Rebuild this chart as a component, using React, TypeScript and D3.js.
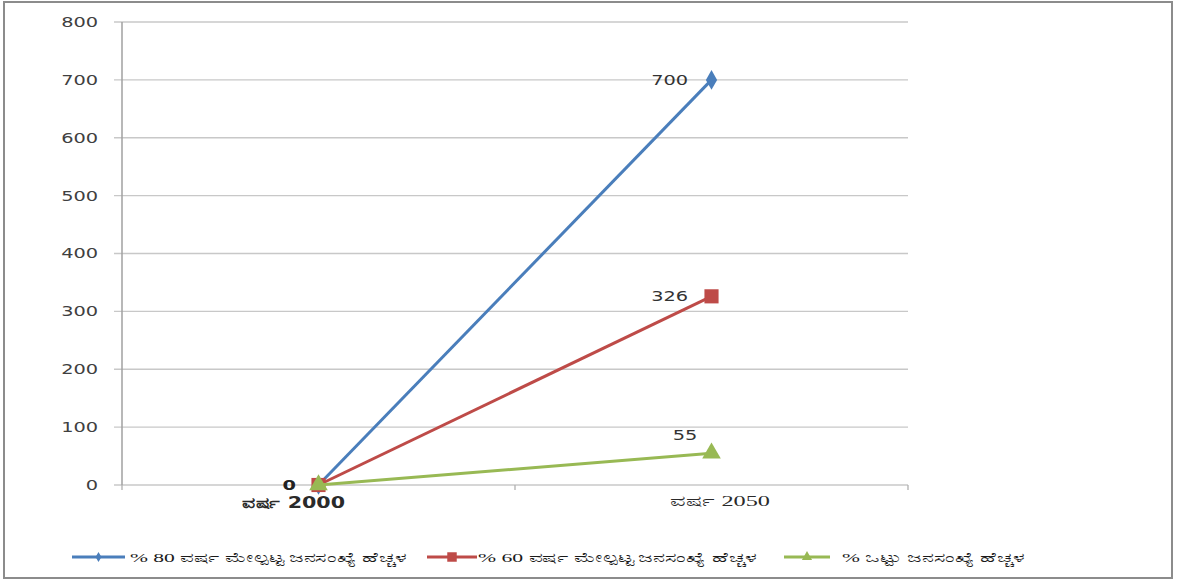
import React from "react";
import * as d3 from "d3";

const categories = ["ವರ್ಷ 2000", "ವರ್ಷ 2050"];
const seriesNames = [
  "% 80 ವರ್ಷ ಮೇಲ್ಪಟ್ಟ ಜನಸಂಖ್ಯೆ ಹೆಚ್ಚಳ",
  "% 60 ವರ್ಷ ಮೇಲ್ಪಟ್ಟ ಜನಸಂಖ್ಯೆ ಹೆಚ್ಚಳ",
  "% ಒಟ್ಟು ಜನಸಂಖ್ಯೆ ಹೆಚ್ಚಳ",
];
const over80 = [0, 700];
const over60 = [0, 326];
const total = [0, 55];
const yTicks = [0, 100, 200, 300, 400, 500, 600, 700, 800];

const W = 1179;
const H = 585;
const left = 122;
const right = 908;
const top = 22;
const bottom = 485;
const SX = 1.38;

export default function App() {
  const x = d3.scaleBand<string>().domain(categories).range([left, right]);
  const y = d3.scaleLinear().domain([0, 800]).range([bottom, top]);
  const cx = (c: string) => (x(c) as number) + x.bandwidth() / 2;

  const series = [
    { name: seriesNames[0], values: over80, color: "#4A7EBB", marker: "diamond" },
    { name: seriesNames[1], values: over60, color: "#BE4B48", marker: "square" },
    { name: seriesNames[2], values: total, color: "#98B954", marker: "triangle" },
  ];

  const line = d3
    .line<number>()
    .x((_, i) => cx(categories[i]))
    .y((d) => y(d));

  const markerPath = (type: string) => {
    if (type === "diamond") return d3.symbol(d3.symbolDiamond, 110)() as string;
    if (type === "square") return d3.symbol(d3.symbolSquare, 200)() as string;
    return d3.symbol(d3.symbolTriangle, 150)() as string;
  };

  const font = "'DejaVu Sans', Verdana, sans-serif";
  const legend = [
    { lx: 72, lw: 53, tx: 130, tw: 277 },
    { lx: 427, lw: 50, tx: 478, tw: 279 },
    { lx: 784, lw: 46, tx: 842, tw: 183 },
  ];
  const legendY = 557;
  const xLabels = [
    { x0: 242, w: 103, y: 503, family: font, weight: "600" },
    { x0: 670, w: 100, y: 501, family: "'Liberation Serif', 'Times New Roman', serif", weight: "normal" },
  ];

  const stretched = (tx: number, ty: number) => `translate(${tx},${ty}) scale(${SX},1)`;

  return (
    <svg
      width={W}
      height={H}
      style={{ position: "absolute", left: 0, top: 0, background: "#fff" }}
      fontFamily={font}
    >
      <rect x={4} y={2} width={1168} height={576} fill="#fff" stroke="#8c8c8c" strokeWidth={2} />
      {yTicks.map((t) => (
        <g key={t}>
          <line x1={114} x2={right} y1={y(t)} y2={y(t)} stroke="#c8c8c8" strokeWidth={1.3} />
          <text
            transform={stretched(98, y(t))}
            dy="0.35em"
            textAnchor="end"
            fontSize={14}
            fill="#404040"
          >
            {t}
          </text>
        </g>
      ))}
      <line x1={left} x2={left} y1={top} y2={bottom} stroke="#a0a0a0" strokeWidth={1.5} />
      {[left, ...categories.map((c) => (x(c) as number) + x.bandwidth())].map((px, i) => (
        <line key={i} x1={px} x2={px} y1={bottom} y2={bottom + 5} stroke="#b0b0b0" strokeWidth={1.3} />
      ))}
      {categories.map((c, i) => (
        <text
          key={c}
          x={xLabels[i].x0}
          y={xLabels[i].y}
          dy="0.35em"
          fontSize={15}
          fontWeight={xLabels[i].weight}
          fontFamily={xLabels[i].family}
          fill="#2a2a2a"
          textLength={xLabels[i].w}
          lengthAdjust="spacingAndGlyphs"
        >
          {c}
        </text>
      ))}
      {series.map((s) => (
        <g key={s.name}>
          <path d={line(s.values) as string} fill="none" stroke={s.color} strokeWidth={3} />
          {s.values.map((v, i) => (
            <path
              key={i}
              d={markerPath(s.marker)}
              transform={`translate(${cx(categories[i])},${y(v)})`}
              fill={s.color}
            />
          ))}
        </g>
      ))}
      {/* data labels */}
      <text transform={stretched(296, y(0))} dy="0.35em" textAnchor="end" fontSize={14} fontWeight="bold" fill="#222">
        {over80[0]}
      </text>
      <text transform={stretched(688, y(over80[1]))} dy="0.35em" textAnchor="end" fontSize={14} fill="#333">
        {over80[1]}
      </text>
      <text transform={stretched(688, y(over60[1]))} dy="0.35em" textAnchor="end" fontSize={14} fill="#333">
        {over60[1]}
      </text>
      <text transform={stretched(685, 435)} dy="0.35em" textAnchor="middle" fontSize={14} fill="#333">
        {total[1]}
      </text>
      {/* legend */}
      {series.map((s, i) => (
        <g key={s.name}>
          <line
            x1={legend[i].lx}
            x2={legend[i].lx + legend[i].lw}
            y1={legendY}
            y2={legendY}
            stroke={s.color}
            strokeWidth={3}
          />
          <path
            d={
              s.marker === "diamond"
                ? (d3.symbol(d3.symbolDiamond, 30)() as string)
                : s.marker === "square"
                ? (d3.symbol(d3.symbolSquare, 90)() as string)
                : (d3.symbol(d3.symbolTriangle, 45)() as string)
            }
            transform={`translate(${legend[i].lx + legend[i].lw / 2},${legendY})`}
            fill={s.color}
          />
          <text
            x={legend[i].tx}
            y={legendY}
            dy="0.35em"
            fontSize={13}
            fontFamily="'Liberation Serif', 'Times New Roman', serif"
            fill="#1a1a1a"
            textLength={legend[i].tw}
            lengthAdjust="spacingAndGlyphs"
          >
            {s.name}
          </text>
        </g>
      ))}
    </svg>
  );
}
